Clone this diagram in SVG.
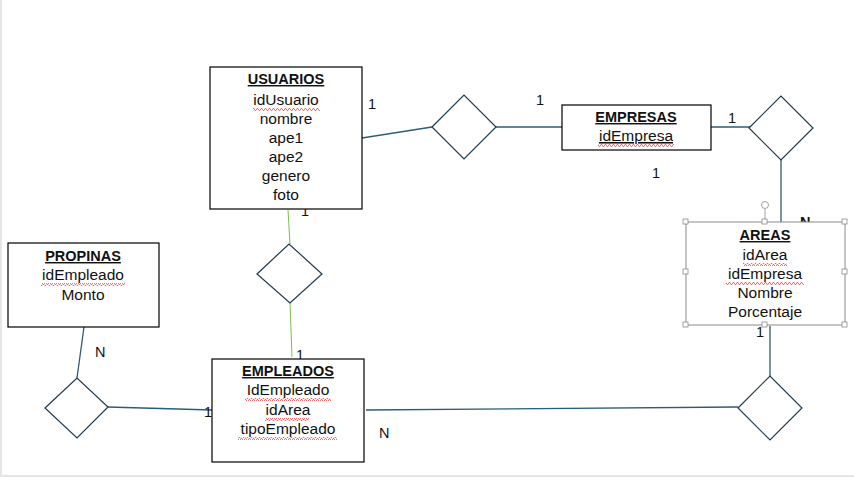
<svg xmlns="http://www.w3.org/2000/svg" width="854" height="477" viewBox="0 0 854 477">
<defs>
<pattern id="wavy" width="4" height="3" patternUnits="userSpaceOnUse">
<path d="M0,2.5 L1,0.5 L2,0.5 L3,2.5 L4,2.5" fill="none" stroke="#e05050" stroke-width="0.8"/>
</pattern>
<style>
.box{fill:#fff;stroke:#000;stroke-width:1.2}
.sel{fill:#fff;stroke:#8a8a8a;stroke-width:1}
.dia{fill:#fff;stroke:#1f3a4d;stroke-width:1.2}
.c{fill:none;stroke:#2d5b7a;stroke-width:1.3}
.g{fill:none;stroke:#7dbb4f;stroke-width:1}
text{font-family:"Liberation Sans",Arial,sans-serif;font-size:15.5px;fill:#111}
.t{font-size:14.5px;font-weight:bold;text-decoration:underline;text-anchor:middle}
.a{text-anchor:middle}
.lbl{font-size:14.5px}
.sp{fill:url(#wavy)}
.h{fill:#fff;stroke:#8a8a8a;stroke-width:0.8}
</style>
</defs>
<rect x="0" y="0" width="854" height="477" fill="#fff"/>
<rect x="0" y="0" width="2" height="477" fill="#e6e6e6"/>
<rect x="0" y="475" width="854" height="2" fill="#e6e6e6"/>

<g id="connectors">
<path class="c" d="M362,138 L432,127"/>
<path class="c" d="M496,127 L562,127"/>
<path class="c" d="M711,127 L750,127"/>
<path class="c" d="M781,160 L781,222"/>
<path class="c" d="M770,326 L770,376"/>
<path class="c" d="M738,407 L366,410"/>
<path class="c" d="M212,410 L108,407"/>
<path class="c" d="M77,378 L84,327"/>
<path class="g" d="M288,210 L290,244"/>
<path class="g" d="M290,303 L292,357"/>
<text class="lbl" x="368" y="109">1</text>
<text class="lbl" x="536" y="105">1</text>
<text class="lbl" x="728" y="123">1</text>
<text class="lbl" x="652" y="178">1</text>
<text class="lbl" x="800" y="227" font-weight="bold">N</text>
<text class="lbl" x="756" y="337">1</text>
<text class="lbl" x="379" y="438">N</text>
<text class="lbl" x="204" y="417">1</text>
<text class="lbl" x="95" y="357">N</text>
<text class="lbl" x="301" y="216">1</text>
<text class="lbl" x="296" y="360">1</text>
</g>

<g id="usuarios">
<rect class="box" x="210" y="67" width="152" height="142"/>
<text class="t" x="286" y="84">USUARIOS</text>
<text class="a" x="286" y="105">idUsuario</text>
<rect class="sp" x="253" y="108" width="67" height="3"/>
<text class="a" x="286" y="124">nombre</text>
<text class="a" x="286" y="143">ape1</text>
<text class="a" x="286" y="162">ape2</text>
<text class="a" x="286" y="181">genero</text>
<text class="a" x="286" y="200">foto</text>
</g>

<g id="rel-usuarios-empresas">
<polygon class="dia" points="432,127 464,95 496,127 464,159"/>
</g>

<g id="empresas">
<rect class="box" x="562" y="105" width="149" height="45"/>
<text class="t" x="636" y="122">EMPRESAS</text>
<text class="a" x="636" y="141" text-decoration="underline">idEmpresa</text>
<rect class="sp" x="598" y="144" width="76" height="3"/>
</g>

<g id="rel-empresas-areas">
<polygon class="dia" points="749,128 781,96 813,128 781,160"/>
</g>

<g id="areas">
<rect class="sel" x="686" y="222" width="159" height="103"/>
<text class="t" x="765" y="240">AREAS</text>
<text class="a" x="765" y="260">idArea</text>
<rect class="sp" x="743" y="263" width="44" height="3"/>
<text class="a" x="765" y="279">idEmpresa</text>
<rect class="sp" x="726" y="282" width="78" height="3"/>
<text class="a" x="765" y="298">Nombre</text>
<text class="a" x="765" y="317">Porcentaje</text>
<line x1="765" y1="209" x2="765" y2="219" stroke="#8a8a8a" stroke-width="0.8"/>
<circle cx="765" cy="205" r="3.5" fill="#fff" stroke="#8a8a8a" stroke-width="0.8"/>
<rect class="h" x="683" y="219" width="5" height="5"/>
<rect class="h" x="762" y="219" width="5" height="5"/>
<rect class="h" x="842" y="219" width="5" height="5"/>
<rect class="h" x="683" y="269" width="5" height="5"/>
<rect class="h" x="842" y="269" width="5" height="5"/>
<rect class="h" x="683" y="322" width="5" height="5"/>
<rect class="h" x="762" y="322" width="5" height="5"/>
<rect class="h" x="842" y="322" width="5" height="5"/>
</g>

<g id="rel-usuarios-empleados">
<polygon class="dia" points="257,274 289,244 322,274 290,303"/>
</g>

<g id="propinas">
<rect class="box" x="8" y="243" width="151" height="84"/>
<text class="t" x="83" y="261">PROPINAS</text>
<text class="a" x="83" y="280">idEmpleado</text>
<rect class="sp" x="41" y="283" width="84" height="3"/>
<text class="a" x="83" y="300">Monto</text>
</g>

<g id="rel-propinas-empleados">
<polygon class="dia" points="45,408 77,378 108,407 77,438"/>
</g>

<g id="empleados">
<rect class="box" x="212" y="359" width="152" height="103"/>
<text class="t" x="288" y="376">EMPLEADOS</text>
<text class="a" x="288" y="395">IdEmpleado</text>
<rect class="sp" x="245" y="398" width="86" height="3"/>
<text class="a" x="288" y="415">idArea</text>
<rect class="sp" x="265" y="418" width="44" height="3"/>
<text class="a" x="288" y="434">tipoEmpleado</text>
<rect class="sp" x="238" y="437" width="99" height="3"/>
</g>

<g id="rel-empleados-areas">
<polygon class="dia" points="738,408 770,376 802,408 770,440"/>
</g>
</svg>
